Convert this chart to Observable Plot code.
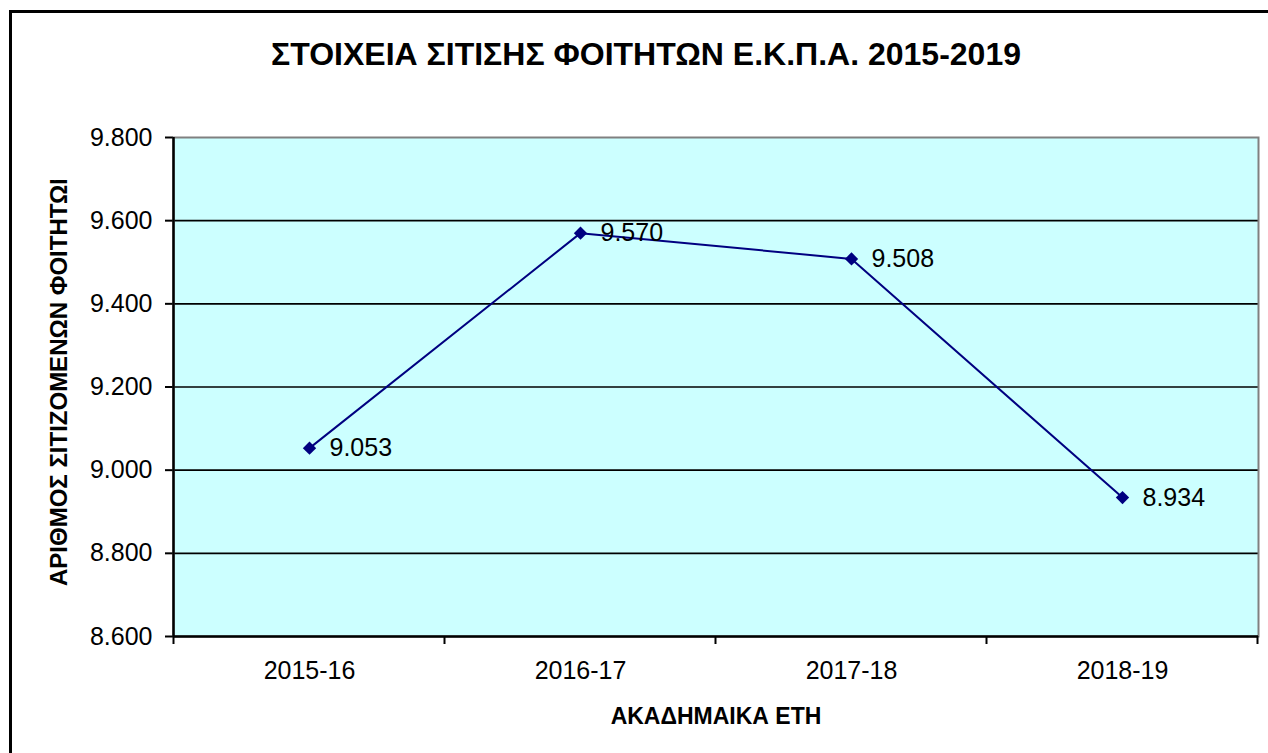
<!DOCTYPE html>
<html>
<head>
<meta charset="utf-8">
<script src="https://cdn.jsdelivr.net/npm/d3@7"></script>
<script src="https://cdn.jsdelivr.net/npm/@observablehq/plot@0.6"></script>
<style>
  html, body { margin: 0; padding: 0; background: #fff; overflow: hidden; }
  #wrap { position: relative; width: 1268px; height: 753px; overflow: hidden; }
  #border { position: absolute; left: 9px; top: 10px; width: 1300px; height: 800px;
            border-left: 3px solid #000; border-top: 3px solid #000; pointer-events: none; }
  svg { font-family: "Liberation Sans", Arial, sans-serif; }
  svg g[aria-label="y-axis tick"] path, svg g[aria-label="y-axis tick"] line { stroke-width: 2; }
</style>
</head>
<body>
<div id="wrap"><div id="border"></div></div>
<script>
const categories = ["2015-16", "2016-17", "2017-18", "2018-19"];
const students = [9053, 9570, 9508, 8934];
const yTicks = [8600, 8800, 9000, 9200, 9400, 9600, 9800];
const titleText = "ΣΤΟΙΧΕΙΑ ΣΙΤΙΣΗΣ ΦΟΙΤΗΤΩΝ Ε.Κ.Π.Α. 2015-2019";
const xLabel = "ΑΚΑΔΗΜΑΙΚΑ ΕΤΗ";
const yLabel = "ΑΡΙΘΜΟΣ ΣΙΤΙΖΟΜΕΝΩΝ ΦΟΙΤΗΤΩΝ";

const data = categories.map((c, i) => ({year: c, value: students[i]}));
const gr = d3.formatLocale({decimal: ",", thousands: ".", grouping: [3], currency: ["€", ""]});
const fmt = gr.format(",d");

const chart = Plot.plot({
  width: 1268,
  height: 753,
  marginLeft: 173,
  marginTop: 137,
  marginRight: 10,
  marginBottom: 117,
  style: {background: "transparent", fontSize: "25px", fontFamily: "'Liberation Sans', Arial, sans-serif", color: "#000", overflow: "visible"},
  x: {type: "point", domain: categories, padding: 0.5, tickSize: 0, tickPadding: 25, label: null},
  y: {domain: [8600, 9800], ticks: yTicks, tickFormat: fmt, tickSize: 8, tickPadding: 13, label: null},
  marks: [
    Plot.frame({fill: "#CCFFFF", stroke: "none"}),
    Plot.ruleY(yTicks.slice(1, -1), {stroke: "#000", strokeWidth: 1.6}),
    Plot.frame({stroke: "#808080", strokeWidth: 2}),
    Plot.ruleY([yTicks[0]], {stroke: "#000", strokeWidth: 2.5}),
    Plot.line(data, {x: "year", y: "value", stroke: "#000080", strokeWidth: 2}),
    Plot.dot(data, {x: "year", y: "value", symbol: "diamond2", r: 6, fill: "#000080", stroke: "none"}),
    Plot.text(data, {x: "year", y: "value", text: d => fmt(d.value), textAnchor: "start", dx: 20, fontSize: 25, fill: "#000"}),
    Plot.text([titleText], {frameAnchor: "top", lineAnchor: "middle", dx: -70, dy: -83, fontSize: 32, fontWeight: "bold", fill: "#000"}),
    Plot.text([xLabel], {frameAnchor: "bottom", lineAnchor: "middle", dy: 80, fontSize: 23, fontWeight: "bold", fill: "#000"})
  ]
});

document.getElementById("wrap").prepend(chart);

// post-process: category boundary ticks, left axis line, clipped y label
const svg = d3.select(chart);
const xs = chart.scale("x");
const ys = chart.scale("y");
const step = xs.apply(categories[1]) - xs.apply(categories[0]);
const bounds = categories.map(c => xs.apply(c) - step / 2).concat([xs.apply(categories[categories.length - 1]) + step / 2]);
const yBottom = ys.apply(yTicks[0]);
const yTop = ys.apply(yTicks[yTicks.length - 1]);

svg.append("g").selectAll("line").data(bounds).join("line")
  .attr("x1", d => d).attr("x2", d => d)
  .attr("y1", yBottom).attr("y2", yBottom + 8)
  .attr("stroke", "#000").attr("stroke-width", 2);

svg.append("line")
  .attr("x1", bounds[0]).attr("x2", bounds[0])
  .attr("y1", yTop).attr("y2", yBottom + 1)
  .attr("stroke", "#000").attr("stroke-width", 2.5);

svg.append("defs").append("clipPath").attr("id", "ylabclip")
  .append("rect").attr("x", 0).attr("y", 180).attr("width", bounds[0]).attr("height", 753 - 180);

svg.append("g").attr("clip-path", "url(#ylabclip)")
  .append("text")
  .attr("transform", `translate(${bounds[0] - 114},${yBottom - 50}) rotate(-90)`)
  .attr("text-anchor", "start")
  .attr("dy", "0.32em")
  .attr("font-size", 24)
  .attr("font-weight", "bold")
  .attr("fill", "#000")
  .text(yLabel);
</script>
</body>
</html>
